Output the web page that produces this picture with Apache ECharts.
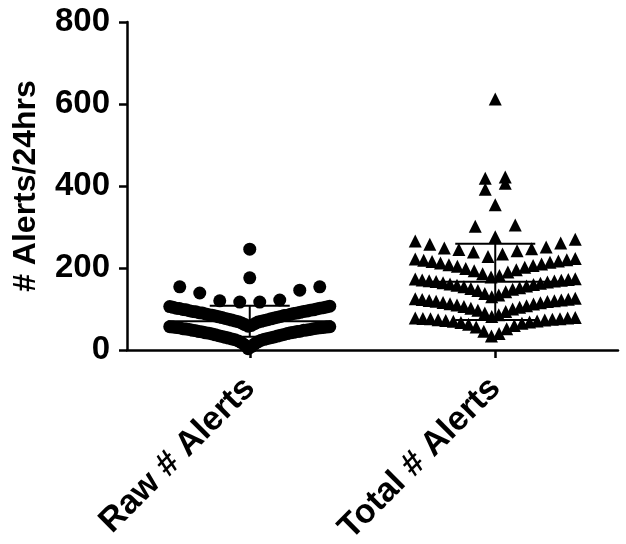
<!DOCTYPE html>
<html><head><meta charset="utf-8">
<script src="https://cdn.jsdelivr.net/npm/echarts@6/dist/echarts.min.js"></script>
<style>html,body{margin:0;padding:0;background:#fff}#c{width:626px;height:544px}</style>
</head><body><div id="c"></div>
<script>
// ---- data ----
const categories = ['Raw # Alerts', 'Total # Alerts'];
const yTicks = [0, 200, 400, 600, 800];
const rawAlerts = [
  3, 8, 12, 15, 18, 20, 22, 24, 25, 26, 27, 28, 29, 30, 31, 32, 33, 34, 35, 36,
  37, 38, 39, 40, 41, 42, 42, 43, 44, 45, 45, 46, 47, 48, 48, 49, 50, 50, 51, 52,
  52, 53, 54, 54, 55, 55, 56, 56, 57, 57,
  58, 60, 62, 64, 66, 68, 69, 70, 71, 72, 73, 74, 75, 76, 77, 78, 79, 80, 81, 82,
  83, 84, 85, 85, 86, 87, 88, 89, 90, 90, 91, 92, 93, 94, 94, 95, 96, 97, 98, 98,
  99, 100, 101, 102, 102, 103, 104, 105, 106, 107,
  117, 117, 120, 122, 139, 146, 154, 154, 176, 246
];
const totalAlerts = [
  34, 40, 46, 52, 56, 60, 63, 65, 67, 68, 70, 71, 72, 73, 74, 75, 76, 76, 77, 78, 78, 79,
  82, 86, 90, 94, 97, 100, 102, 104, 106, 108, 110, 112, 113, 115, 116, 118, 119, 120, 121, 122, 123, 124, 125, 126,
  130, 134, 138, 142, 145, 148, 150, 152, 154, 156, 158, 160, 161, 163, 164, 166, 167, 168, 169, 170, 171, 172, 173, 174,
  178, 182, 186, 190, 193, 196, 199, 202, 204, 206, 208, 210, 212, 214, 216, 217, 219, 220, 222, 223,
  228, 234, 239, 242, 245, 247, 249, 251, 258, 261, 266, 270,
  276, 302, 305, 354, 392, 407, 419, 422, 612
];

// ---- layout parameters (not data) ----
const GRID = { left: 127, right: 8, top: 22, bottom: 194 };
const W = 626, H = 544;
const pxPerUnit = (W - GRID.left - GRID.right) / 2; // x value axis spans -0.5..1.5
const FONT = '"Liberation Sans", Arial, Helvetica, sans-serif';

function mean(a) { return a.reduce((s, v) => s + v, 0) / a.length; }
function sd(a) { const m = mean(a); return Math.sqrt(a.reduce((s, v) => s + (v - m) * (v - m), 0) / (a.length - 1)); }

// GraphPad-like column scatter: bin by value, spread each bin horizontally,
// smallest values at the centre, larger ones outward.
function swarm(values, catIndex, binOrigin, binSize, maxSpacing, maxHalfWidth) {
  const bins = {};
  values.forEach(v => {
    const b = Math.floor((v - binOrigin) / binSize);
    (bins[b] = bins[b] || []).push(v);
  });
  const pts = [];
  Object.keys(bins).forEach(k => {
    const vals = bins[k].slice().sort((a, b) => a - b);
    const n = vals.length;
    const s = n > 1 ? Math.min(maxSpacing, 2 * maxHalfWidth / (n - 1)) : 0;
    const slots = [];
    for (let j = 0; j < n; j++) slots.push((j - (n - 1) / 2) * s);
    const order = slots.map((o, j) => ({ o, j })).sort((a, b) => {
      const d = Math.abs(a.o) - Math.abs(b.o);
      if (Math.abs(d) > 1e-9) return d;
      return a.o - b.o;
    });
    vals.forEach((v, i) => {
      pts.push([catIndex + order[i].o / pxPerUnit, v]);
    });
  });
  return pts;
}

const rawPts = swarm(rawAlerts, 0, 0, 58, 20, 80);
const totalPts = swarm(totalAlerts, 1, 32, 48, 20, 80);
const stats = [rawAlerts, totalAlerts].map((a, i) => [i, mean(a), sd(a)]);

const chart = echarts.init(document.getElementById('c'), null, { renderer: 'canvas' });
chart.setOption({
  animation: false,
  backgroundColor: '#fff',
  grid: { left: GRID.left, right: GRID.right, top: GRID.top, bottom: GRID.bottom, containLabel: false, outerBoundsMode: 'none' },
  xAxis: [
    {
      type: 'category', data: categories, position: 'bottom',
      boundaryGap: true,
      axisLine: { show: true, onZero: false, lineStyle: { color: '#000', width: 2.5 } },
      axisTick: { show: true, alignWithLabel: true, length: 8, lineStyle: { color: '#000', width: 2.5 } },
      axisLabel: { rotate: 45, margin: 33, color: '#000', fontWeight: 'bold', fontSize: 34, fontFamily: FONT, interval: 0 },
      splitLine: { show: false }
    },
    { type: 'value', min: -0.5, max: 1.5, show: false, position: 'bottom', splitLine: { show: false } }
  ],
  yAxis: {
    type: 'value', min: 0, max: 800, interval: 200,
    name: '# Alerts/24hrs', nameLocation: 'middle', nameGap: 85, nameRotate: 90,
    nameTextStyle: { color: '#000', fontWeight: 'bold', fontSize: 32, fontFamily: FONT },
    axisLine: { show: true, onZero: false, lineStyle: { color: '#000', width: 2.5 } },
    axisTick: { show: true, length: 8, lineStyle: { color: '#000', width: 2.5 } },
    axisLabel: {
      margin: 17, color: '#000', fontWeight: 'bold', fontSize: 33, fontFamily: FONT,
      customValues: yTicks
    },
    splitLine: { show: false }
  },
  series: [
    {
      type: 'scatter', xAxisIndex: 1, data: rawPts, symbol: 'circle', symbolSize: 13,
      itemStyle: { color: '#000', opacity: 1 }, z: 2
    },
    {
      type: 'scatter', xAxisIndex: 1, data: totalPts, symbol: 'triangle', symbolSize: 13,
      itemStyle: { color: '#000', opacity: 1 }, z: 2
    },
    {
      type: 'custom', xAxisIndex: 1, data: stats, z: 3,
      renderItem: function (params, api) {
        const x = api.value(0), m = api.value(1), s = api.value(2);
        const pm = api.coord([x, m]);
        const pt = api.coord([x, m + s]);
        const pb = api.coord([x, m - s]);
        const st = { stroke: '#000', lineWidth: 2 };
        return {
          type: 'group', children: [
            { type: 'line', shape: { x1: pm[0] - 82, y1: pm[1], x2: pm[0] + 82, y2: pm[1] }, style: st },
            { type: 'line', shape: { x1: pm[0], y1: pt[1], x2: pm[0], y2: pb[1] }, style: st },
            { type: 'line', shape: { x1: pm[0] - 40, y1: pt[1], x2: pm[0] + 40, y2: pt[1] }, style: st },
            { type: 'line', shape: { x1: pm[0] - 40, y1: pb[1], x2: pm[0] + 40, y2: pb[1] }, style: st }
          ]
        };
      }
    }
  ]
});
</script>
</body></html>
